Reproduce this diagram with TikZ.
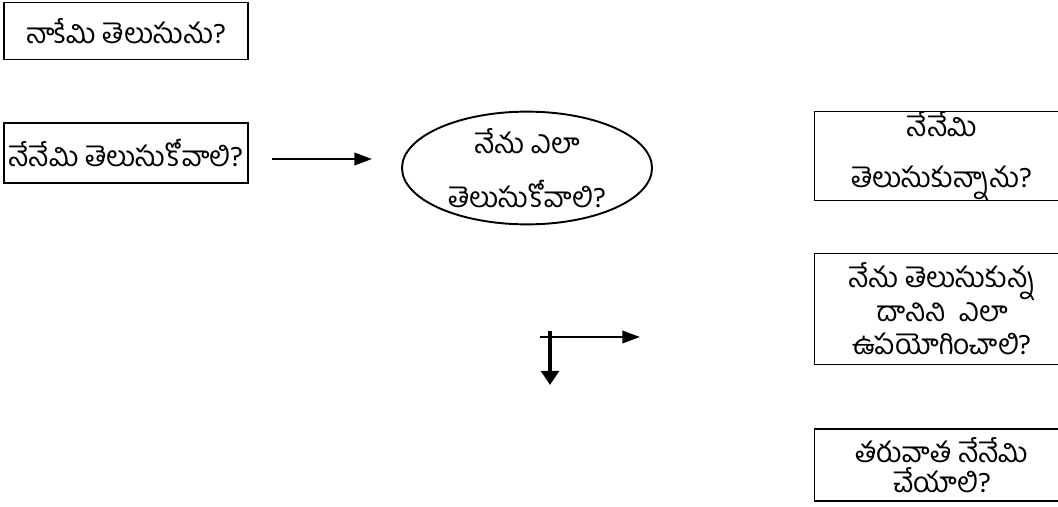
\documentclass[tikz,border=0pt]{standalone}
\usepackage{fontspec}
\newfontfamily\telugu[Script=Telugu]{Hind Guntur}
\usepackage{tikz}
\usetikzlibrary{positioning,calc}
\usetikzlibrary{shapes.geometric,arrows.meta}

\tikzset{
  qbox/.style={draw, line width=1.1pt, inner sep=0pt, align=center},
  qarrow/.style={line width=1.4pt, -{Triangle[length=10pt,width=7pt]}},
}

\begin{document}
\begin{tikzpicture}[x=0.02cm, y=-0.02cm, font=\telugu\fontsize{16}{19}\selectfont]
\useasboundingbox (0,0) rectangle (1058,507);
\clip (0,0) rectangle (1058,507);

\path (126, 31) node[qbox, minimum width=244*0.02cm, minimum height=57*0.02cm] (know) {నాకేమి తెలుసును?};

\path (126, 153) node[qbox, minimum width=244*0.02cm, minimum height=60*0.02cm] (need) {నేనేమి తెలుసుకోవాలి?};

\path (527, 168) node[draw, line width=1.1pt, ellipse, align=center, inner sep=0pt, minimum width=250*0.02cm, minimum height=100*0.02cm] (how) {నేను ఎలా\\[12pt]తెలుసుకోవాలి?};

\path (942, 156) node[qbox, minimum width=255*0.02cm, minimum height=88*0.02cm] (learned) {నేనేమి\\[10pt]తెలుసుకున్నాను?};

\path (942, 309) node[qbox, minimum width=255*0.02cm, minimum height=111*0.02cm] (apply) {నేను తెలుసుకున్న\\దానిని\ \ ఎలా\\ఉపయోగించాలి?};

\path (942, 465) node[qbox, minimum width=255*0.02cm, minimum height=72*0.02cm] (next) {తరువాత నేనేమి\\[-2pt]చేయాలి?};

% free arrows
\coordinate (a_start) at (272, 159);
\coordinate (a_end) at (372, 159);
\coordinate (h_start) at (540, 337);
\coordinate (h_end) at (640, 337);
\coordinate (v_start) at (550, 331);
\coordinate (v_end) at (550, 385);

\draw[qarrow] (a_start) -- (a_end);
\draw[qarrow] (h_start) -- (h_end);
\draw[line width=2pt, -{Triangle[length=8pt,width=10pt]}] (v_start) -- (v_end);
\end{tikzpicture}
\end{document}
